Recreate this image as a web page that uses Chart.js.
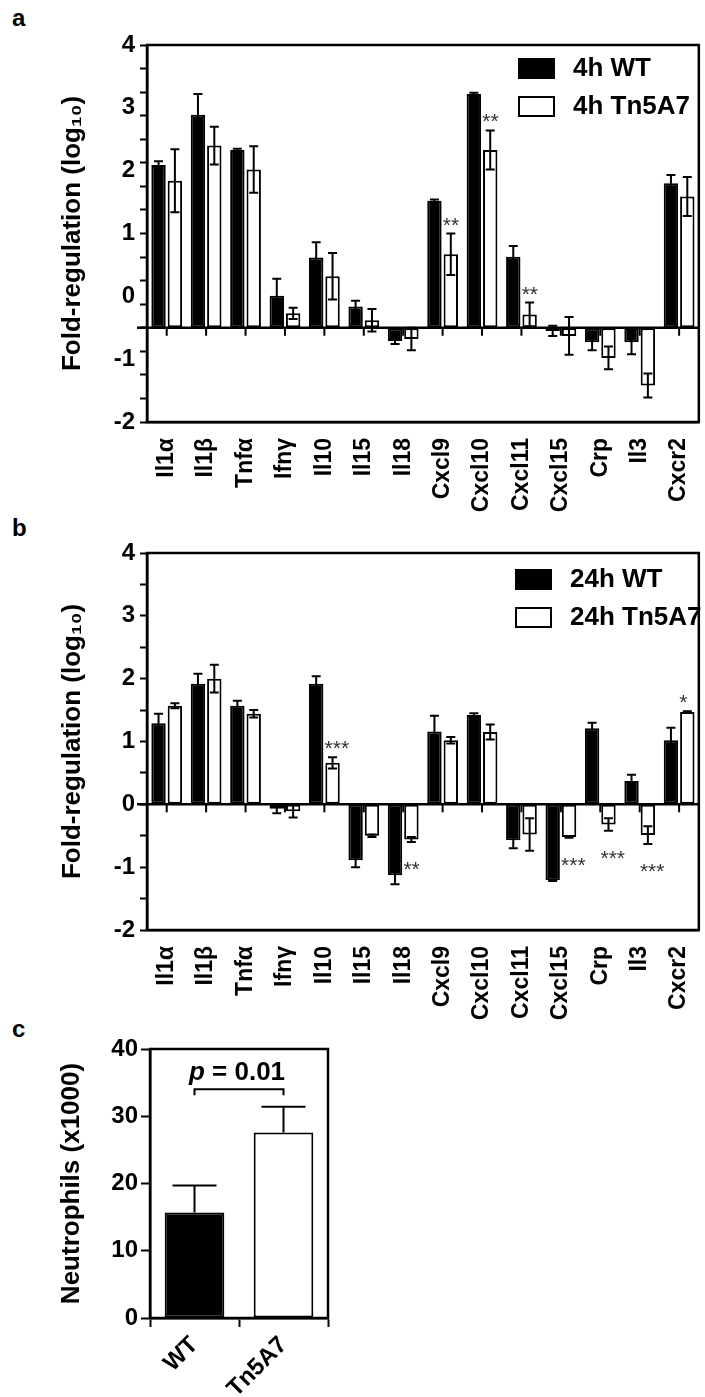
<!DOCTYPE html>
<html>
<head>
<meta charset="utf-8">
<script src="https://cdn.jsdelivr.net/npm/chart.js@4.4.1/dist/chart.umd.min.js"></script>
<style>
body { margin: 0; background: #fff; width: 705px; height: 1397px; overflow: hidden; position: relative; font-family: 'Liberation Sans', Arial, sans-serif; }
canvas { position: absolute; left: 0; }
.lbl { position: absolute; left: 12px; font-weight: bold; font-size: 24px; line-height: 24px; }
</style>
</head>
<body>
<div class="lbl" style="top:6px">a</div>
<div class="lbl" style="top:516px">b</div>
<div class="lbl" style="top:1017px">c</div>
<canvas id="chartA" width="715" height="520" style="top:0"></canvas>
<canvas id="chartB" width="715" height="520" style="top:508px"></canvas>
<canvas id="chartC" width="340" height="397" style="top:1000px"></canvas>
<script>
// genes on the x axis (panels a and b)
var genes = ['Il1α', 'Il1β', 'Tnfα', 'Ifnγ', 'Il10', 'Il15', 'Il18', 'Cxcl9', 'Cxcl10', 'Cxcl11', 'Cxcl15', 'Crp', 'Il3', 'Cxcr2'];

// panel a - 4h (read in axis units, bars start at -0.5)
var wt4h = [2.09, 2.89, 2.33, 0.01, 0.62, -0.16, -0.71, 1.52, 3.22, 0.63, -0.55, -0.73, -0.73, 1.80];
var wt4hErr = [0.06, 0.33, 0.02, 0.27, 0.24, 0.09, 0.05, 0.02, 0.02, 0.17, 0.08, 0.13, 0.19, 0.13];
var tn4h = [1.84, 2.40, 2.02, -0.27, 0.32, -0.38, -0.68, 0.67, 2.33, -0.29, -0.63, -0.98, -1.42, 1.59];
var tn4hErr = [0.50, 0.30, 0.37, 0.09, 0.37, 0.18, 0.18, 0.33, 0.31, 0.19, 0.30, 0.18, 0.19, 0.31];
var sig4h = ['', '', '', '', '', '', '', '**', '**', '**', '', '', '', ''];
var legend4h = ['4h WT', '4h Tn5A7'];
var base4h = -0.5;
var yLabels4h = [-2, -1, 0, 1, 2, 3, 4];
var yStep4h = 0.375;

// panel b - 24h
var wt24h = [1.29, 1.92, 1.57, -0.07, 1.92, -0.89, -1.13, 1.16, 1.42, -0.57, -1.21, 1.21, 0.37, 1.02];
var wt24hErr = [0.15, 0.16, 0.08, 0.07, 0.12, 0.11, 0.14, 0.25, 0.03, 0.13, 0.01, 0.09, 0.10, 0.20];
var tn24h = [1.57, 2.00, 1.44, -0.11, 0.66, -0.50, -0.56, 1.02, 1.15, -0.48, -0.52, -0.32, -0.49, 1.47];
var tn24hErr = [0.04, 0.22, 0.06, 0.10, 0.09, 0.02, 0.04, 0.05, 0.12, 0.26, 0.01, 0.10, 0.14, 0.01];
var sig24h = ['', '', '', '', '***', '', '**', '', '', '', '***', '***', '***', '*'];
var legend24h = ['24h WT', '24h Tn5A7'];
var base24h = 0;
var yLabels24h = [-2, -1, 0, 1, 2, 3, 4];
var yStep24h = 0.5;

// panel c - neutrophils
var groups = ['WT', 'Tn5A7'];
var neutro = [15.7, 27.6];
var neutroErr = [4.0, 3.8];
var pValue = '0.01';

var FONT = "'Liberation Sans', Arial, sans-serif";
Chart.defaults.font.family = FONT;
Chart.defaults.color = '#000';

// box around the plot area
var frame = {
    id: 'frame',
    afterDatasetsDraw: function(chart) {
        var a = chart.chartArea, ctx = chart.ctx;
        ctx.save();
        ctx.strokeStyle = '#000';
        ctx.lineWidth = 2.5;
        ctx.strokeRect(a.left, a.top, a.right - a.left, a.bottom - a.top);
        ctx.restore();
    }
};

// x axis line drawn at the bar base, with tick marks
var baseLine = {
    id: 'baseLine',
    afterDatasetsDraw: function(chart, args, opts) {
        var a = chart.chartArea, ctx = chart.ctx;
        var y = chart.scales.y.getPixelForValue(opts.base);
        ctx.save();
        ctx.strokeStyle = '#000';
        ctx.lineWidth = 2.5;
        ctx.beginPath();
        ctx.moveTo(a.left - 10, y);
        ctx.lineTo(a.right, y);
        ctx.stroke();
        ctx.lineWidth = 2;
        chart.scales.x.ticks.forEach(function(t, i) {
            var x = chart.scales.x.getPixelForTick(i);
            ctx.beginPath();
            ctx.moveTo(x, y);
            ctx.lineTo(x, y + 8);
            ctx.stroke();
        });
        ctx.restore();
    }
};

var errorBars = {
    id: 'errorBars',
    afterDatasetsDraw: function(chart, args, opts) {
        var ctx = chart.ctx, ys = chart.scales.y;
        ctx.save();
        ctx.strokeStyle = '#000';
        ctx.lineWidth = 2;
        chart.data.datasets.forEach(function(ds, i) {
            var meta = chart.getDatasetMeta(i);
            meta.data.forEach(function(bar, j) {
                var v = ds.data[j], e = ds.errors[j];
                var hi = ys.getPixelForValue(v + e);
                var lo = opts.upOnly ? ys.getPixelForValue(v) : ys.getPixelForValue(v - e);
                var c = opts.cap;
                ctx.beginPath();
                ctx.moveTo(bar.x, lo); ctx.lineTo(bar.x, hi);
                ctx.moveTo(bar.x - c, hi); ctx.lineTo(bar.x + c, hi);
                if (!opts.upOnly) { ctx.moveTo(bar.x - c, lo); ctx.lineTo(bar.x + c, lo); }
                ctx.stroke();
            });
        });
        ctx.restore();
    }
};

// significance stars next to the Tn5A7 bars
var stars = {
    id: 'stars',
    afterDatasetsDraw: function(chart, args, opts) {
        var ctx = chart.ctx, ys = chart.scales.y;
        var ds = chart.data.datasets[1], meta = chart.getDatasetMeta(1);
        ctx.save();
        ctx.fillStyle = '#333';
        ctx.font = '21px ' + FONT;
        ctx.textAlign = 'left';
        ctx.textBaseline = 'alphabetic';
        opts.sig.forEach(function(s, j) {
            if (!s) return;
            var v = ds.data[j], e = ds.errors[j], bar = meta.data[j];
            var y = v >= opts.base ? ys.getPixelForValue(v + e) - 2 : ys.getPixelForValue(v - e) + 34;
            ctx.fillText(s, bar.x - 8, y);
        });
        ctx.restore();
    }
};

var boxLegend = {
    id: 'boxLegend',
    afterDraw: function(chart, args, opts) {
        var a = chart.chartArea, ctx = chart.ctx;
        ctx.save();
        ctx.font = 'bold 26px ' + FONT;
        ctx.textBaseline = 'middle';
        chart.data.datasets.forEach(function(ds, i) {
            var x = a.left + opts.x, y = a.top + opts.y + i * 38;
            ctx.fillStyle = ds.backgroundColor;
            ctx.fillRect(x, y, 37, 21);
            ctx.strokeStyle = '#000';
            ctx.lineWidth = 2;
            ctx.strokeRect(x + 1, y + 1, 35, 19);
            ctx.fillStyle = '#000';
            ctx.fillText(ds.label, x + 55, y + 11);
        });
        ctx.restore();
    }
};

function yTicks(min, max, step, labels) {
    var vals = [];
    for (var k = 0; min + k * step <= max + 1e-9; k++) vals.push(min + k * step);
    labels.forEach(function(l) { if (vals.indexOf(l) < 0) vals.push(l); });
    vals.sort(function(a, b) { return a - b; });
    return vals.map(function(v) { return { value: v }; });
}

function foldChart(id, wt, wtErr, tn, tnErr, sig, legend, base, yLabels, yStep, lgX, lgY) {
    var isMinor = function(v) { return Math.abs((v + 2) / yStep - Math.round((v + 2) / yStep)) < 1e-6; };
    return new Chart(document.getElementById(id), {
        type: 'bar',
        data: {
            labels: genes,
            datasets: [
                { label: legend[0], data: wt, errors: wtErr, base: base, backgroundColor: '#000', borderColor: '#000', borderWidth: 2, borderSkipped: false },
                { label: legend[1], data: tn, errors: tnErr, base: base, backgroundColor: '#fff', borderColor: '#000', borderWidth: 2, borderSkipped: false }
            ]
        },
        options: {
            responsive: false,
            animation: false,
            layout: { padding: { top: 45, right: 8, left: 0, bottom: 0 } },
            datasets: { bar: { categoryPercentage: 0.83, barPercentage: 0.88 } },
            plugins: {
                legend: { display: false },
                tooltip: { enabled: false },
                errorBars: { cap: 4.5, upOnly: false },
                baseLine: { base: base },
                stars: { sig: sig, base: base },
                boxLegend: { x: lgX, y: lgY }
            },
            scales: {
                x: {
                    grid: { display: false },
                    border: { display: true, color: '#000', width: 2.5 },
                    ticks: { autoSkip: false, minRotation: 90, maxRotation: 90, padding: 8, color: '#000', font: { size: 23, weight: 'bold' } },
                    afterFit: function(s) { s.height = 98; }
                },
                y: {
                    min: -2,
                    max: 4,
                    afterBuildTicks: function(s) { s.ticks = yTicks(-2, 4, yStep, yLabels); },
                    grid: {
                        drawOnChartArea: false,
                        tickLength: 7,
                        tickWidth: 2,
                        color: function(c) { return isMinor(c.tick.value) ? '#000' : 'rgba(0,0,0,0)'; }
                    },
                    border: { color: '#000', width: 2.5 },
                    ticks: {
                        autoSkip: false,
                        padding: 5,
                        color: '#000',
                        font: { size: 24, weight: 'bold' },
                        callback: function(v) { return yLabels.indexOf(v) >= 0 ? String(v) : ''; }
                    },
                    title: { display: true, text: 'Fold-regulation (log₁₀)', color: '#000', font: { size: 26, weight: 'bold' }, padding: { top: 57, bottom: 0 } },
                    afterFit: function(s) { s.width = 147; }
                }
            }
        },
        plugins: [frame, baseLine, errorBars, stars, boxLegend]
    });
}

foldChart('chartA', wt4h, wt4hErr, tn4h, tn4hErr, sig4h, legend4h, base4h, yLabels4h, yStep4h, 371, 13);
foldChart('chartB', wt24h, wt24hErr, tn24h, tn24hErr, sig24h, legend24h, base24h, yLabels24h, yStep24h, 368, 16);

// bracket with p value over the two bars
var pBracket = {
    id: 'pBracket',
    afterDatasetsDraw: function(chart, args, opts) {
        var ctx = chart.ctx, xs = chart.scales.x, ys = chart.scales.y;
        var x1 = xs.getPixelForTick(0), x2 = xs.getPixelForTick(1);
        var y = ys.getPixelForValue(opts.level);
        ctx.save();
        ctx.strokeStyle = '#000';
        ctx.lineWidth = 2;
        ctx.beginPath();
        ctx.moveTo(x1, y + 6); ctx.lineTo(x1, y); ctx.lineTo(x2, y); ctx.lineTo(x2, y + 6);
        ctx.stroke();
        var italic = 'italic bold 26px ' + FONT, plain = 'bold 26px ' + FONT;
        ctx.font = italic;
        var w1 = ctx.measureText('p').width;
        ctx.font = plain;
        var rest = ' = ' + opts.text;
        var w2 = ctx.measureText(rest).width;
        var sx = (x1 + x2) / 2 - (w1 + w2) / 2 - 2;
        ctx.fillStyle = '#000';
        ctx.textBaseline = 'alphabetic';
        ctx.font = italic;
        ctx.fillText('p', sx, y - 9);
        ctx.font = plain;
        ctx.fillText(rest, sx + w1, y - 9);
        ctx.restore();
    }
};

new Chart(document.getElementById('chartC'), {
    type: 'bar',
    data: {
        labels: groups,
        datasets: [{
            data: neutro,
            errors: neutroErr,
            backgroundColor: ['#000', '#fff'],
            borderColor: '#000',
            borderWidth: 2,
            borderSkipped: false,
            categoryPercentage: 1,
            barPercentage: 0.67
        }]
    },
    options: {
        responsive: false,
        animation: false,
        layout: { padding: { top: 49, right: 12, left: 0, bottom: 0 } },
        plugins: {
            legend: { display: false },
            tooltip: { enabled: false },
            errorBars: { cap: 22, upOnly: true },
            pBracket: { level: 34, text: pValue }
        },
        scales: {
            x: {
                grid: { drawOnChartArea: false, tickLength: 9, tickWidth: 2, color: '#000' },
                border: { color: '#000', width: 2.5 },
                ticks: { minRotation: 45, maxRotation: 45, padding: 4, color: '#000', font: { size: 24, weight: 'bold' } },
                afterFit: function(s) { s.height = 79; }
            },
            y: {
                min: 0,
                max: 40,
                grid: { drawOnChartArea: false, tickLength: 9, tickWidth: 2, color: '#000' },
                border: { color: '#000', width: 2.5 },
                ticks: { stepSize: 10, padding: 3, color: '#000', font: { size: 24, weight: 'bold' } },
                title: { display: true, text: 'Neutrophils (x1000)', color: '#000', font: { size: 26, weight: 'bold' }, padding: { top: 56, bottom: 0 } },
                afterFit: function(s) { s.width = 150; }
            }
        }
    },
    plugins: [frame, errorBars, pBracket]
});
</script>
</body>
</html>
